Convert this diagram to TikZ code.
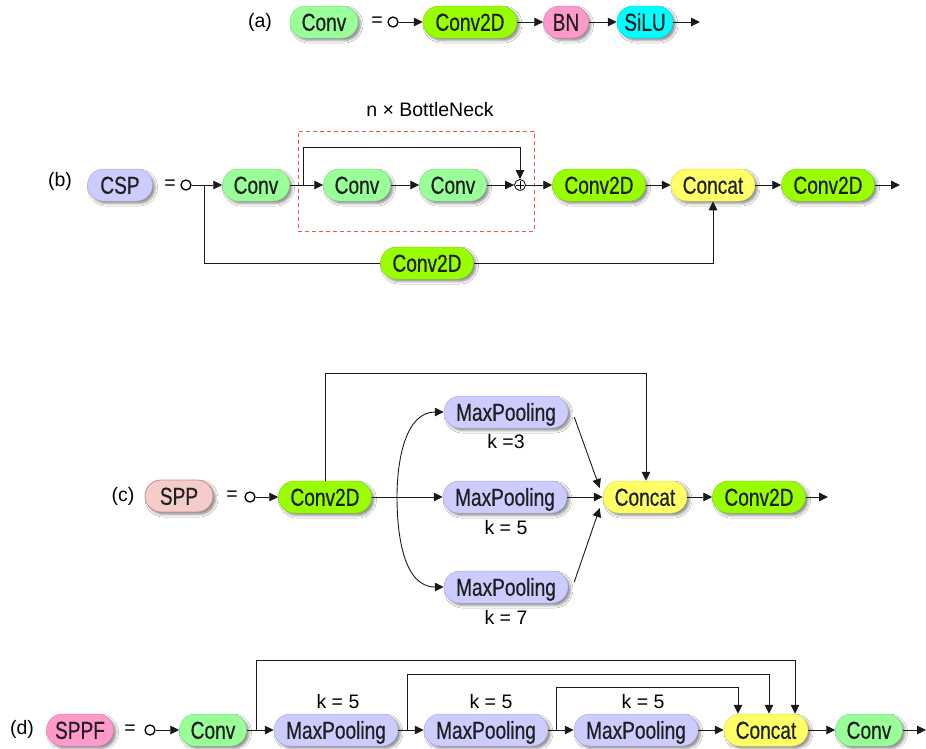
\documentclass[tikz,border=0pt]{standalone}
\usepackage{fontspec}
\setmainfont{Liberation Sans}
\newfontfamily\nodefont[FakeStretch=0.78,FakeBold=0.5]{Liberation Sans}
\usetikzlibrary{arrows.meta,shadows.blur,calc}
\definecolor{convc}{HTML}{99FF99}
\definecolor{conv2dc}{HTML}{99FF00}
\definecolor{bnc}{HTML}{FF99CC}
\definecolor{siluc}{HTML}{00FFFF}
\definecolor{lavc}{HTML}{CCCCFF}
\definecolor{catc}{HTML}{FFFF66}
\definecolor{sppc}{HTML}{F4CCCC}
\definecolor{sppb}{HTML}{D08A8A}
\definecolor{linec}{HTML}{1A1A1A}
\definecolor{boxred}{HTML}{FF4D4D}
\begin{document}
\begin{tikzpicture}[x=1pt,y=-1pt,
  blk/.style={rectangle, rounded corners=16pt, minimum height=32pt, inner sep=0pt,
    text height=17.5pt, text depth=0pt, line width=0.5pt, text=black!88,
    font={\nodefont\fontsize{24.5}{27}\selectfont},
    blur shadow={shadow xshift=2.5pt, shadow yshift=-2.5pt, shadow blur radius=2.5pt, shadow opacity=45}},
  conv/.style={blk, fill=convc, draw=convc!85!black, minimum width=67pt},
  c2d/.style={blk, fill=conv2dc, draw=conv2dc!85!black, minimum width=93pt},
  cat/.style={blk, fill=catc, draw=catc!85!black, minimum width=84pt},
  mp/.style={blk, fill=lavc, draw=lavc!85!black, minimum width=124pt},
  lbl/.style={inner sep=0pt, font={\fontsize{19.5}{22}\selectfont}},
  startc/.style={circle, draw=black, fill=white, line width=1.3pt, minimum size=10pt, inner sep=0pt},
  plusc/.style={circle, draw=black, fill=white, line width=0.8pt, minimum size=11pt, inner sep=0pt},
  ln/.style={line width=0.9pt, draw=linec},
  arr/.style={ln, -{Triangle[length=9pt,width=8.5pt]}}
]
\useasboundingbox (0,0) rectangle (926,748);
\fill[white] (0,0) rectangle (926,748);

% ---------- (a)
\node[lbl] (la) at (260,22) {(a)};
\node[conv, minimum width=68pt] (a1) at (324,22) {Conv};
\node[lbl] (aeq) at (377,22) {=};
\node[startc] (a0) at (393,22) {};
\node[c2d, minimum width=94pt] (a2) at (470,22) {Conv2D};
\node[blk, fill=bnc, draw=bnc!85!black, minimum width=45pt] (a3) at (566,22) {BN};
\node[blk, fill=siluc, draw=siluc!85!black, minimum width=56pt] (a4) at (645,22) {SiLU};
\coordinate (aend) at (700,22);
\draw[arr] (a0) -- (a2);
\draw[arr] (a2) -- (a3);
\draw[arr] (a3) -- (a4);
\draw[arr] (a4) -- (aend);

% ---------- (b)
\node[draw=boxred, dashed, dash pattern=on 4pt off 3pt, line width=0.8pt, minimum width=236pt, minimum height=100pt, inner sep=0pt] (bneck) at (416,181) {};
\node[lbl] (bnl) at (430,110) {n × BottleNeck};
\node[lbl] (lb) at (60,181) {(b)};
\node[blk, fill=lavc, draw=lavc!85!black, minimum width=65pt] (b0) at (120,185) {CSP};
\node[lbl] (beq) at (170,185) {=};
\node[startc] (bs) at (186,185) {};
\node[conv] (b1) at (256,185) {Conv};
\node[conv] (b2) at (357,185) {Conv};
\node[conv] (b3) at (453,185) {Conv};
\node[plusc] (bp) at (520,185) {};
\draw[line width=0.8pt] (bp.center) +(0,-3.6) -- +(0,3.6) (bp.center) +(-3.6,0) -- +(3.6,0);
\node[c2d] (b4) at (599,185) {Conv2D};
\node[cat] (b5) at (713,185) {Concat};
\node[c2d] (b6) at (828,185) {Conv2D};
\coordinate (bend) at (900,185);
\node[c2d] (b7) at (427,263) {Conv2D};
\coordinate (bbr1) at (204,185);
\coordinate (bbr2) at (303,185);
\coordinate (btop) at (520,147);
\draw[arr] (bs) -- (b1);
\draw[ln] (bbr1) |- (b7);
\draw[arr] (b7) -| (b5);
\draw[arr] (b1) -- (b2);
\draw[arr] (bbr2) |- (btop) -- (bp);
\draw[arr] (b2) -- (b3);
\draw[arr] (b3) -- (bp);
\draw[arr] (bp) -- (b4);
\draw[arr] (b4) -- (b5);
\draw[arr] (b5) -- (b6);
\draw[arr] (b6) -- (bend);

% ---------- (c)
\node[lbl] (lc) at (123,496) {(c)};
\node[blk, fill=sppc, draw=sppb, line width=0.8pt, minimum width=68pt] (c0) at (179,496) {SPP};
\node[lbl] (ceq) at (232,496) {=};
\node[startc] (cs) at (250,497) {};
\node[c2d] (c1) at (325,497) {Conv2D};
\node[mp] (m1) at (506,412) {MaxPooling};
\node[lbl] (k1) at (506,442) {k =3};
\node[mp] (m2) at (505,497) {MaxPooling};
\node[lbl] (k2) at (506,528) {k = 5};
\node[mp] (m3) at (506,587) {MaxPooling};
\node[lbl] (k3) at (506,617) {k = 7};
\node[cat] (c2) at (645,497) {Concat};
\node[c2d] (c3) at (759,497) {Conv2D};
\coordinate (cend) at (828,497);
\coordinate (ctop) at (646,373);
\coordinate (cbr) at (397,497);
\draw[arr] (cs) -- (c1);
\draw[arr] (c1) |- (ctop) -- (ctop |- c2.north);
\draw[arr] (c1) -- (m2);
\draw[arr] (cbr) to[out=90,in=180] (m1.west);
\draw[arr] (cbr) to[out=-90,in=180] (m3.west);
\draw[arr] ($(m1.east)+(6,5)$) -- ($(c2.west)+(-3,-9)$);
\draw[arr] (m2) -- (c2);
\draw[arr] ($(m3.east)+(6,-5)$) -- ($(c2.west)+(-3,11)$);
\draw[arr] (c2) -- (c3);
\draw[arr] (c3) -- (cend);

% ---------- (d)
\node[lbl] (ld) at (22,729) {(d)};
\node[blk, fill=bnc, draw=bnc!85!black, minimum width=67pt] (d0) at (80,730) {SPPF};
\node[lbl] (deq) at (130,730) {=};
\node[startc] (ds) at (150,730) {};
\node[conv] (d1) at (213,730) {Conv};
\node[mp] (d2) at (336,730) {MaxPooling};
\node[mp] (d3) at (486,730) {MaxPooling};
\node[mp] (d4) at (636,730) {MaxPooling};
\node[cat] (d5) at (766,730) {Concat};
\node[conv] (d6) at (869,730) {Conv};
\coordinate (dend) at (926,730);
\node[lbl] (dk1) at (338,702) {k = 5};
\node[lbl] (dk2) at (491,702) {k = 5};
\node[lbl] (dk3) at (643,702) {k = 5};
\coordinate (db1) at (256,730);
\coordinate (dt1) at (795,660);
\coordinate (db2) at (407,730);
\coordinate (dt2) at (769,674);
\coordinate (db3) at (556,730);
\coordinate (dt3) at (738,687);
\draw[arr] (ds) -- (d1);
\draw[arr] (d1) -- (d2);
\draw[arr] (d2) -- (d3);
\draw[arr] (d3) -- (d4);
\draw[arr] (d4) -- (d5);
\draw[arr] (d5) -- (d6);
\draw[arr] (d6) -- (dend);
\draw[arr] (db1) |- (dt1) -- (dt1 |- d5.north);
\draw[arr] (db2) |- (dt2) -- (dt2 |- d5.north);
\draw[arr] (db3) |- (dt3) -- (dt3 |- d5.north);
\end{tikzpicture}
\end{document}
